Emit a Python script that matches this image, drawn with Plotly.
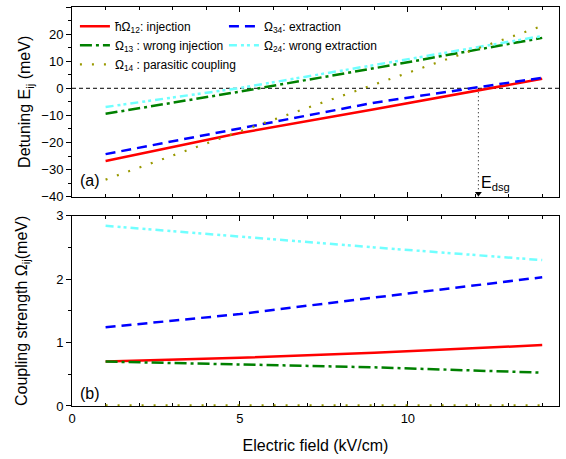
import plotly.graph_objects as go

# Electric field sample points (kV/cm)
field = [1, 5, 9, 14]

# Detuning E_ij (meV) versus field
det_12 = [-26.8, -16.5, -7.7, 3.5]
det_34 = [-24.3, -14.7, -5.3, 3.9]
det_13 = [-9.4, -1.2, 7.4, 18.6]
det_24 = [-6.9, 0.1, 8.6, 19.3]
det_14 = [-33.7, -15.9, 1.4, 23.0]

# Coupling strength Omega_ij (meV) versus field
cpl_12 = [0.70, 0.76, 0.84, 0.96]
cpl_34 = [1.24, 1.45, 1.71, 2.03]
cpl_13 = [0.70, 0.66, 0.61, 0.525]
cpl_24 = [2.84, 2.67, 2.50, 2.30]
cpl_14 = [0.01, 0.01, 0.01, 0.01]

# Design field where injection and extraction align
e_dsg = 12.1

x_range = [0, 14.5]
det_range = [-40, 30]
cpl_range = [0, 3]

FONT = "Arial, Liberation Sans, sans-serif"

styles = {
    "12": dict(color="#ff0000", width=2.5, dash="solid"),
    "34": dict(color="#0000ff", width=2.5, dash="10px,6px"),
    "13": dict(color="#008000", width=2.5, dash="12px,4px,3px,4px"),
    "24": dict(color="#70ffff", width=2.5, dash="8px,4px,3px,3px,3px,4px"),
    "14": dict(color="#999900", width=2.2, dash="2px,10px"),
}
names = {
    "12": "ħΩ<sub>12</sub>: injection",
    "34": "Ω<sub>34</sub>: extraction",
    "13": "Ω<sub>13</sub> : wrong injection",
    "24": "Ω<sub>24</sub>: wrong extraction",
    "14": "Ω<sub>14</sub> : parasitic coupling",
}
legend_of = {"12": "legend", "13": "legend", "14": "legend",
             "34": "legend2", "24": "legend2"}

fig = go.Figure()

# reference lines in the detuning panel
fig.add_trace(go.Scatter(x=x_range, y=[0, 0], mode="lines",
                         line=dict(color="black", width=1, dash="4px,3px"),
                         showlegend=False, hoverinfo="skip",
                         xaxis="x", yaxis="y"))
fig.add_trace(go.Scatter(x=[e_dsg, e_dsg], y=[0, det_range[0]], mode="lines",
                         line=dict(color="black", width=1, dash="1px,3px"),
                         showlegend=False, hoverinfo="skip",
                         xaxis="x", yaxis="y"))
fig.add_trace(go.Scatter(x=[e_dsg], y=[det_range[0] + 1.2], mode="markers",
                         marker=dict(symbol="triangle-down", size=6, color="black"),
                         showlegend=False, hoverinfo="skip",
                         xaxis="x", yaxis="y"))

det = {"12": det_12, "34": det_34, "13": det_13, "24": det_24, "14": det_14}
cpl = {"12": cpl_12, "34": cpl_34, "13": cpl_13, "24": cpl_24, "14": cpl_14}

for key in ["12", "34", "13", "24", "14"]:
    fig.add_trace(go.Scatter(x=field, y=det[key], mode="lines",
                             line=styles[key], name=names[key],
                             legend=legend_of[key],
                             xaxis="x", yaxis="y"))
for key in ["12", "34", "13", "24", "14"]:
    fig.add_trace(go.Scatter(x=field, y=cpl[key], mode="lines",
                             line=styles[key], showlegend=False,
                             xaxis="x2", yaxis="y2"))

axis_common = dict(showline=True, linecolor="black", linewidth=1,
                   showgrid=False, zeroline=False, automargin=False,
                   tickcolor="black", tickfont=dict(family=FONT, size=13, color="black"))

top_dom = [0.5246, 1.0]
bot_dom = [0.0, 0.4769]

fig.update_layout(
    width=566, height=459,
    margin=dict(l=72, r=7, t=7, b=53),
    paper_bgcolor="white", plot_bgcolor="white",
    font=dict(family=FONT, color="black"),
    xaxis=dict(axis_common, domain=[0, 1], anchor="y", range=x_range,
               showticklabels=False, ticks="inside", ticklen=5, dtick=5, tick0=0,
               mirror="ticks",
               minor=dict(ticks="inside", ticklen=3, dtick=1, tickcolor="black")),
    yaxis=dict(axis_common, domain=top_dom, anchor="x", range=det_range,
               ticks="outside", ticklen=5, dtick=10, tick0=0, mirror=True,
               minor=dict(ticks="outside", ticklen=3, dtick=5, tickcolor="black"),
               title=dict(text="Detuning E<sub>ij</sub> (meV)",
                          font=dict(family=FONT, size=16), standoff=6)),
    yaxis3=dict(axis_common, overlaying="y", anchor="x", side="right",
                range=det_range, showticklabels=False,
                ticks="inside", ticklen=5, dtick=10, tick0=0,
                minor=dict(ticks="inside", ticklen=3, dtick=5, tickcolor="black")),
    xaxis2=dict(axis_common, domain=[0, 1], anchor="y2", range=x_range,
                ticks="inside", ticklen=5, dtick=5, tick0=0, mirror="ticks",
                layer="below traces",
                minor=dict(ticks="inside", ticklen=3, dtick=1, tickcolor="black"),
                title=dict(text="Electric field (kV/cm)",
                           font=dict(family=FONT, size=16), standoff=15)),
    yaxis2=dict(axis_common, domain=bot_dom, anchor="x2", range=cpl_range,
                ticks="outside", ticklen=5, dtick=1, tick0=0, mirror=True,
                minor=dict(ticks="outside", ticklen=3, dtick=0.5, tickcolor="black"),
                title=dict(text="Coupling strength Ω<sub>ij</sub>(meV)",
                           font=dict(family=FONT, size=16), standoff=24)),
    yaxis4=dict(axis_common, overlaying="y2", anchor="x2", side="right",
                range=cpl_range, showticklabels=False,
                ticks="inside", ticklen=5, dtick=1, tick0=0,
                minor=dict(ticks="inside", ticklen=3, dtick=0.5, tickcolor="black")),
    legend=dict(x=0.006, y=0.988, xanchor="left", yanchor="top",
                bgcolor="rgba(0,0,0,0)", borderwidth=0,
                font=dict(family=FONT, size=12, color="black"),
                itemwidth=30, tracegroupgap=0),
    legend2=dict(x=0.312, y=0.988, xanchor="left", yanchor="top",
                 bgcolor="rgba(0,0,0,0)", borderwidth=0,
                 font=dict(family=FONT, size=12, color="black"),
                 itemwidth=30, tracegroupgap=0),
    annotations=[
        dict(text="(a)", x=0.012, y=-34, xref="paper", yref="y",
             xanchor="left", yanchor="middle", showarrow=False,
             font=dict(family=FONT, size=16)),
        dict(text="(b)", x=0.012, y=0.19, xref="paper", yref="y2",
             xanchor="left", yanchor="middle", showarrow=False,
             font=dict(family=FONT, size=16)),
        dict(text="E<sub>dsg</sub>", x=e_dsg, y=-35, xref="x", yref="y",
             xanchor="left", yanchor="middle", xshift=1, showarrow=False,
             font=dict(family=FONT, size=16)),
    ],
)

fig.write_html("out.html")
